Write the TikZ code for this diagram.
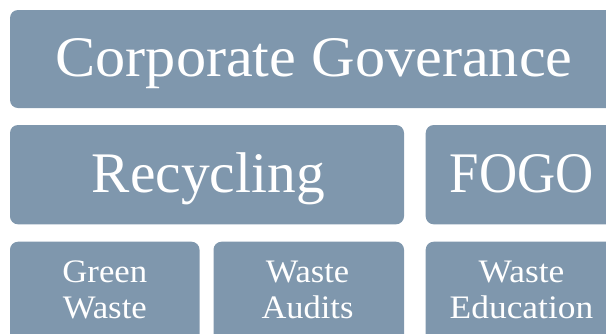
\documentclass[tikz,border=0pt]{standalone}
\usepackage{fontspec}
\setmainfont{Liberation Serif}
\definecolor{boxblue}{RGB}{127,151,173}
\newcommand{\twoline}[2]{\begin{tabular}[t]{@{}c@{}}#1\\#2\end{tabular}}
\begin{document}
\begin{tikzpicture}[x=1bp,y=-1bp,
  tile/.style={fill=boxblue, rounded corners=8bp, draw=none},
  lbl/.style={text=white, inner sep=0pt, anchor=base},
  big/.style={lbl, font=\fontsize{57.4bp}{64bp}\selectfont},
  small/.style={lbl, font=\fontsize{32.8bp}{36.4bp}\selectfont}]
\useasboundingbox (0,0) rectangle (606,333);
\clip (0,0) rectangle (606,333);
\fill[tile] (10,10) rectangle (618,108);
\fill[tile] (10,125) rectangle (404,224.3);
\fill[tile] (425.7,125) rectangle (618,224.3);
\fill[tile] (10,241.7) rectangle (199.5,345);
\fill[tile] (213.5,241.7) rectangle (404,345);
\fill[tile] (425.7,241.7) rectangle (618,345);
\node[big] (gov) at (314,76.6) {\scalebox{1.05}[1]{Corporate Goverance}};
\node[big] (rec) at (208.3,192) {Recycling};
\node[big] (fogo) at (521.7,192) {\scalebox{0.92}[1]{FOGO}};
\node[small] (green) at (104.8,282.5) {\scalebox{1.06}[1]{\twoline{Green}{Waste}}};
\node[small] (audit) at (307.5,282.5) {\scalebox{1.05}[1]{\twoline{Waste}{Audits}}};
\node[small] (edu) at (521.5,282.5) {\scalebox{1.08}[1]{\twoline{Waste}{Education}}};
\end{tikzpicture}
\end{document}
